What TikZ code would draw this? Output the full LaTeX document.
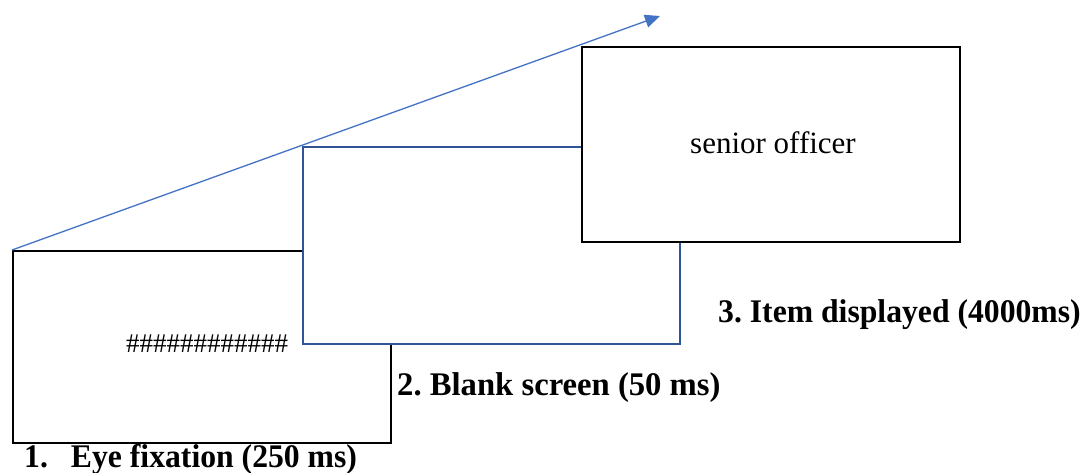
\documentclass[tikz,border=0pt]{standalone}
\usepackage{fontspec}
\setmainfont{Liberation Serif}
\usetikzlibrary{arrows.meta}
\definecolor{arrowblue}{HTML}{4472C4}
\definecolor{frameblue}{HTML}{2F5597}
\newcommand{\steptext}[2][0.96]{\scalebox{#1}[1]{#2}}
\frenchspacing
\begin{document}
\begin{tikzpicture}[x=1pt,y=-1pt,
  screen/.style={draw,fill=white,line width=2.3pt,inner sep=0pt,anchor=north west},
  steplabel/.style={anchor=base west,inner sep=0pt,font=\fontsize{33}{38}\selectfont\bfseries},
  boxtext/.style={anchor=base,inner sep=0pt},
]
\useasboundingbox[fill=white] (0,0) rectangle (1088,472);

% the three screens, each overlapping the previous one
\node[screen,minimum width=378pt,minimum height=192pt] (fix) at (12,250) {};
\node[boxtext,font=\fontsize{27}{30}\selectfont] (hash) at (207,352) {\#\#\#\#\#\#\#\#\#\#\#\#};
\node[screen,draw=frameblue,minimum width=377pt,minimum height=197pt] (blank) at (302,146) {};
\node[screen,minimum width=378pt,minimum height=195pt] (item) at (581,46) {};
\node[boxtext,font=\fontsize{31}{34}\selectfont] (word) at (773,153) {senior officer};

% time arrow
\coordinate (tip) at (660,16);
\draw[arrowblue,line width=1.3pt,-{Triangle[length=15pt,width=13pt]}] (fix.north west) -- (tip);

% step captions
\node[steplabel] (l1) at (24,467) {\steptext{1.\hspace{24pt}Eye fixation (250 ms)}};
\node[steplabel] (l2) at (397,395) {\steptext[0.99]{2. Blank screen (50 ms)}};
\node[steplabel] (l3) at (718,322) {\steptext{3. Item displayed (4000ms)}};
\end{tikzpicture}
\end{document}
